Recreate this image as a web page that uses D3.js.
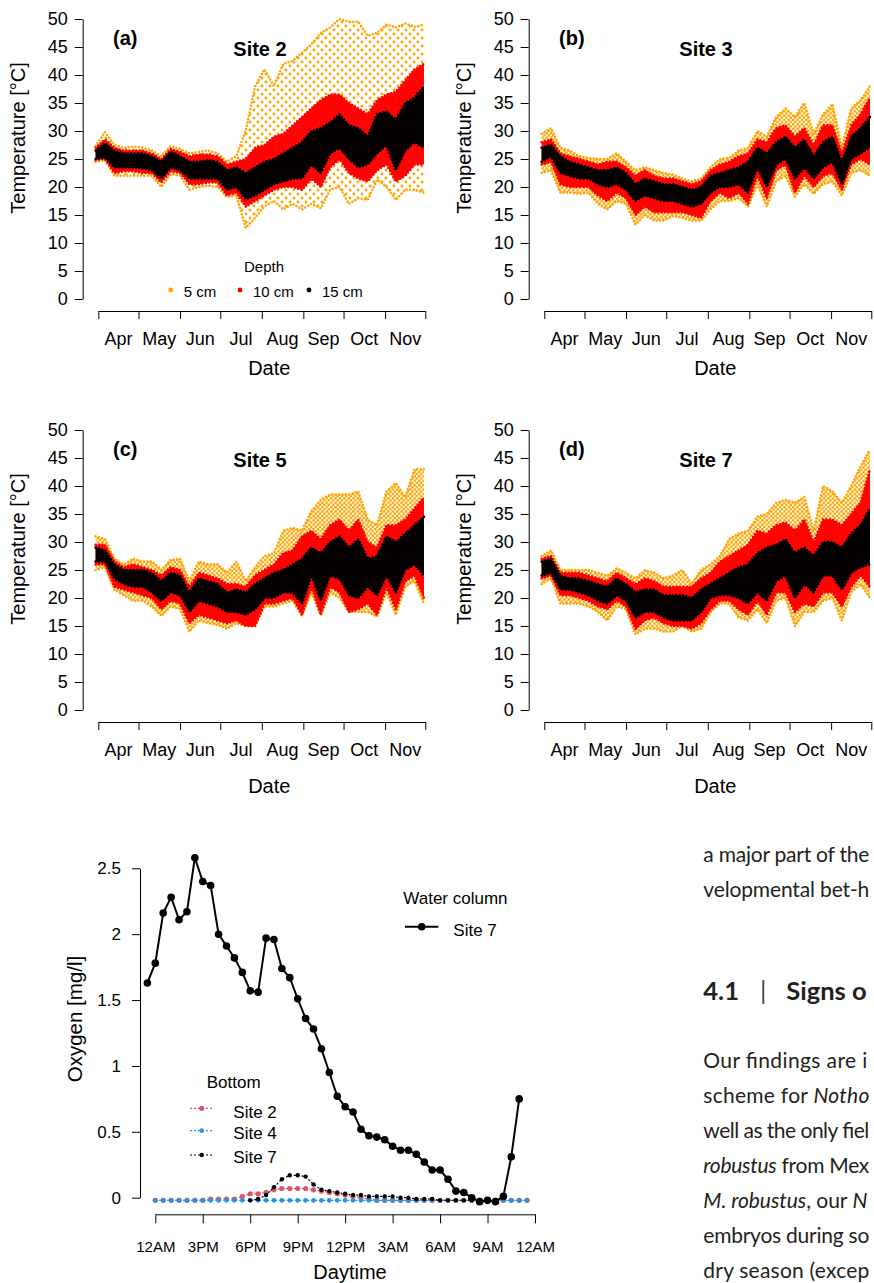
<!DOCTYPE html>
<html>
<head>
<meta charset="utf-8">
<script src="https://cdn.jsdelivr.net/npm/d3@7"></script>
<style>
  body { margin: 0; background: #fff; overflow: hidden; }
  svg { display: block; font-family: "Liberation Sans", Arial, sans-serif; }
</style>
</head>
<body>
<script>
// ---------- temperature data (weekly min / max per depth) ----------
const weekDates = ["2019-03-30","2019-04-06","2019-04-13","2019-04-20","2019-04-27","2019-05-04","2019-05-11","2019-05-18","2019-05-25","2019-06-01","2019-06-08","2019-06-15","2019-06-22","2019-06-29","2019-07-06","2019-07-13","2019-07-20","2019-07-27","2019-08-03","2019-08-10","2019-08-17","2019-08-24","2019-08-31","2019-09-07","2019-09-14","2019-09-21","2019-09-28","2019-10-05","2019-10-12","2019-10-19","2019-10-26","2019-11-02","2019-11-09","2019-11-16","2019-11-23","2019-11-30"];
const monthStarts = ["2019-04-01","2019-05-01","2019-06-01","2019-07-01","2019-08-01","2019-09-01","2019-10-01","2019-11-01","2019-12-01"];
const monthLabels = ["Apr","May","Jun","Jul","Aug","Sep","Oct","Nov"];
const tempTicks = [0,5,10,15,20,25,30,35,40,45,50];
const depthLabels = ["5 cm","10 cm","15 cm"];

// site 2
const site2_5cm_lo  = [24.5,24.8,22,22,22,22,22,20,22.3,22,19.5,20,20.2,20,18.2,18.5,12.7,14.5,16.5,17.5,16,17,16,17,16.2,19.5,20,17,18,17.7,21.3,20,17.7,19.5,19.5,19];
const site2_5cm_hi  = [27.3,29.8,27.5,27,27.2,27,26.5,25.5,27.3,26.8,26,26.3,26.5,26,24.5,25.5,30,38,41,38,42,42.5,44,45.5,47.5,48.5,50,49.5,49.5,47,47.5,49,48.5,49.2,48.6,49];
const site2_10cm_lo = [24.8,25,22.5,22.8,22.8,22.5,22.5,20.8,22.8,22.5,20.5,20.5,20.8,20.8,18.5,19,16.5,17.5,18.5,19.5,20,20,19.5,21.5,20,23.5,25,22.5,21.5,21,23,24,21,22,24,24];
const site2_10cm_hi = [27,28.5,27,26.5,26.5,26.5,26,25,26.8,26.3,25.5,25.8,25.8,25.5,24,24.5,25,27,27.5,29,29.5,31,32.5,34,35.5,36.5,36.5,35,34,33,35.5,36.5,37,39,41,42];
const site2_15cm_lo = [25,25.2,23.5,23.5,23.5,23.3,23,21.5,23.5,23,21.5,21.5,21.5,21.5,19.5,20,17.8,18.5,19.5,20.5,21,21.5,21.5,24,22.5,26,27,25,23.5,24,26,27.5,23,26.5,28,27];
const site2_15cm_hi = [26.5,27.8,26.5,26,26,26,25.5,24.5,26.3,25.5,24.5,24.5,24.8,24.5,23,23.5,22.5,23.5,24.5,25,26,27,28,30,30.5,31.5,33,31,30.5,29,33,33.5,32,35,36,38];

// site 3
const site3_5cm_lo  = [22.5,23,19,19,18.8,19,17,16,17.5,17,13.3,15,14,14,14.8,14.5,14,14,16,17.5,17.5,18,16.5,20.5,16.5,21,22,18.3,20.5,18.8,20.5,21,18.5,22.5,23,22];
const site3_5cm_hi  = [29.5,30.5,27,26.5,25.5,25.2,25,25,26,24.5,23,23.5,23,22.5,22.2,21.5,21,21.5,23.5,25,25.2,26.5,27,30,29,32.5,34,32.5,35,29.5,33,34.8,27,34,35.5,38];
const site3_10cm_lo = [24,24.5,20.5,20,20,20,18.5,17.5,19,18,15,16.5,15.5,15.5,15.5,15.5,15,14.5,17.5,19,18,19,17,22,18,23,24,19,22,20,22,22.5,19.5,24,25,24];
const site3_10cm_hi = [28,28.5,26,25.5,25,24.5,24,24.5,24.5,23.5,22,23,22,21.5,21.5,21,20.5,21,23,24,24.5,25.5,26,28.5,28,30.5,31,29,30.5,27.5,31,31,26,31,33,36];
const site3_15cm_lo = [24.5,25.5,22.5,22,21.5,21.5,20.5,20,20.5,19.5,17.5,18.5,18,17.5,17.5,17,16.5,17,19,20,20,20.5,19,23.5,20,24,25,21.5,23.5,21.5,23.5,24.5,20.5,25,26,27];
const site3_15cm_hi = [27,27.5,25.5,24.5,24,23.5,23,23,23.5,22.5,20.5,21.5,21,20.5,20.5,20,19.5,20,22,22.5,23,23.5,24.5,27,26,28,29,27,28.5,25.5,28,29,24.5,29,30.5,32.5];

// site 5
const site5_5cm_lo  = [25,25.5,21.5,20.5,19.5,19.5,18.5,16.8,18.5,18,14,16,15.5,15.2,14.5,15.5,15,15,18.5,18.5,19,19.5,16.8,21,17,21,20,17.5,17.5,17.5,16.7,21,17,22,23,19];
const site5_5cm_hi  = [31,30.5,27,26,27,26.5,26.5,25,26.8,27,23,26.5,26,26,24.5,26.5,23,25.5,27.5,28,32,32.5,32,35.5,37.5,38.5,38.5,38.5,39,34,33,39,40.5,38,43,43];
const site5_10cm_lo = [26,26,22,21.5,21,20.5,20,18,19.5,19,15.5,17,16.5,16,15.5,16,15,15,19,19,19.5,20,17,22,17,22,21,17.5,18,19,17,22,18,23,24,20];
const site5_10cm_hi = [29.5,29.5,26.5,25.5,26,25.5,25,24,25.5,25,22,24.5,24,23.5,22.5,22.5,22,24,25,26,28,28.5,31,32,30.5,33,34,32,34,30,29,33,33,34,36,38];
const site5_15cm_lo = [26.5,26.5,23.5,22.5,22,22,21,19.5,21,20.5,17.5,19.5,19,18.5,17.5,17.5,17,18,20,20,21,21,19,24,19.5,24,23.5,20.5,20,22,20.5,24,21,25,26,24];
const site5_15cm_hi = [29,28.5,26,25,25,25,24.5,23,24.5,24,21,23.5,23,22.5,21,21.5,21,22.5,23.5,24.5,25,26,27,29,28,30,31,29,30.5,27,27.5,31,30,31.5,33,34.5];

// site 7
const site7_5cm_lo  = [22.5,23.5,19,19,19,18.5,17.5,16,18.5,18,13.5,14.5,14.5,14,14,15,14,14.5,17.5,19,19,16.5,16,18,15.5,19.5,20,15,17.5,17.5,19.5,20,16,21,22.5,20];
const site7_5cm_hi  = [27.5,28.5,25,25,25,25,24.5,24,25.3,24.5,23.5,25,24.5,23.5,24,25,22.5,25,26,27.5,30.5,31.5,32,34.5,35,37,37.5,37,38,32,40,39,37,40,43.5,46.5];
const site7_10cm_lo = [23.5,24,20.5,20.5,20,19.5,18.5,18,19.5,18.5,14.5,16,16.5,15.5,15,15,14.5,15.5,18,19.5,19.5,18,17,19.5,17,21,21,17.5,19,18.5,21,21,18.5,22,24,22];
const site7_10cm_hi = [27,27.5,24.5,24.5,24.5,24,23.5,23,24.5,23.5,22.5,23.5,23,22,22,22,22,23.5,24.5,26.5,27.5,28.5,29.5,32,31.5,33,33.5,32,34,30,34,34,33,35,37,43];
const site7_15cm_lo = [24,24.5,21.5,21.5,21,20.5,19.5,19,20.5,19.5,16.5,17.5,17.5,16.5,16,16,16,17.5,20,20.5,20.5,20,19,21,19.5,23,24,20,22.5,21,24,24,21.5,24.5,25.5,26];
const site7_15cm_hi = [26.5,27,24,23.5,23.5,23,22.5,22,23.5,22.5,21,21.5,21.5,20.5,20.5,20.5,20,21.5,22.5,23.5,24.5,25.5,26,28,29,29.5,30.5,28,29,27.5,30,30,29,31.5,33,36];
// ----------

// ---------- oxygen data ----------
const wcTime = [-0.5,0,0.5,1,1.5,2,2.5,3,3.5,4,4.5,5,5.5,6,6.5,7,7.5,8,8.5,9,9.5,10,10.5,11,11.5,12,12.5,13,13.5,14,14.5,15,15.5,16,16.5,17,17.5,18,18.5,19,19.5,20,20.5,21,21.5,22,22.5,23];
const wcSite7 = [1.63,1.78,2.16,2.28,2.11,2.17,2.58,2.40,2.37,2.00,1.91,1.82,1.71,1.57,1.56,1.97,1.96,1.74,1.67,1.51,1.36,1.28,1.13,0.95,0.77,0.69,0.65,0.52,0.47,0.46,0.44,0.39,0.36,0.36,0.33,0.27,0.21,0.21,0.14,0.05,0.04,0.00,-0.03,-0.02,-0.03,0.01,0.31,0.75];
const bottomTime = [0,0.5,1,1.5,2,2.5,3,3.5,4,4.5,5,5.5,6,6.5,7,7.5,8,8.5,9,9.5,10,10.5,11,11.5,12,12.5,13,13.5,14,14.5,15,15.5,16,16.5,17,17.5,18,18.5,19,19.5,20,20.5,21,21.5,22,22.5,23,23.5];
const bottomSite2 = [-0.02,-0.02,-0.02,-0.02,-0.02,-0.02,-0.02,-0.01,-0.01,-0.01,-0.01,0.01,0.03,0.03,0.04,0.06,0.07,0.07,0.07,0.07,0.06,0.05,0.04,0.03,0.02,0.01,0.00,-0.01,-0.02,-0.02,-0.02,-0.02,-0.02,-0.02,-0.02,-0.02,-0.02,-0.02,-0.02,-0.02,-0.02,-0.02,-0.02,-0.02,-0.02,-0.02,-0.02,-0.02];
const bottomSite4 = [-0.02,-0.02,-0.02,-0.02,-0.02,-0.02,-0.02,-0.02,-0.02,-0.02,-0.02,-0.02,-0.02,-0.02,-0.02,-0.02,-0.02,-0.02,-0.02,-0.02,-0.02,-0.02,-0.02,-0.02,-0.02,-0.02,-0.02,-0.02,-0.02,-0.02,-0.02,-0.02,-0.02,-0.02,-0.02,-0.02,-0.02,-0.02,-0.02,-0.02,-0.02,-0.02,-0.02,-0.02,-0.02,-0.02,-0.02,-0.02];
const bottomTime7 = [6,6.5,7,7.5,8,8.5,9,9.5,10,10.5,11,11.5,12,12.5,13,13.5,14,14.5,15,15.5,16,16.5,17,17.5,18,18.5,19,19.5,20,20.5,21];
const bottomSite7 = [-0.02,-0.01,0.02,0.08,0.14,0.17,0.17,0.16,0.10,0.06,0.05,0.04,0.03,0.02,0.02,0.01,0.01,0.01,0.01,0.00,0.00,-0.01,-0.01,-0.01,-0.02,-0.02,-0.02,-0.02,-0.02,-0.02,-0.02];
const oxyTicks = [0,0.5,1,1.5,2,2.5];
const oxyTickLabels = ["0","0.5","1","1.5","2","2.5"];
const hourTicks = [0,3,6,9,12,15,18,21,24];
const hourLabels = ["12AM","3PM","6PM","9PM","12PM","3AM","6AM","9AM","12AM"];
const bottomLabels = ["Site 2","Site 4","Site 7"];
// ----------

// ---------- page text beside the figure ----------
const pageLines = [
  { y: 861.7, len: 166, parts: [["a major part of the", 0]] },
  { y: 896.7, len: 166, parts: [["velopmental bet-h", 0]] },
  { y: 1068.3, len: 164, parts: [["Our findings are i", 0]] },
  { y: 1103.3, len: 166, parts: [["scheme for ", 0], ["Notho", 1]] },
  { y: 1138.3, len: 166, parts: [["well as the only fiel", 0]] },
  { y: 1173.3, len: 166, parts: [["robustus", 1], [" from Mex", 0]] },
  { y: 1208.3, len: 164, parts: [["M. robustus", 1], [", our ", 0], ["N", 1]] },
  { y: 1243.3, len: 166, parts: [["embryos during so", 0]] },
  { y: 1278.3, len: 166, parts: [["dry season (excep", 0]] },
];
// ----------

const W = 874;
const H = 1283;
const parseDate = d3.timeParse("%Y-%m-%d");
const dates = weekDates.map(parseDate);
const months = monthStarts.map(parseDate);

const svg = d3.select("body").append("svg").attr("width", W).attr("height", H);

// dot patterns that give the scatter its speckled look
const defs = svg.append("defs");
const makePattern = (id, col, size, r, pts) => {
  const pat = defs
    .append("pattern")
    .attr("id", id)
    .attr("patternUnits", "userSpaceOnUse")
    .attr("width", size)
    .attr("height", size);
  pts.forEach((p) => {
    pat.append("circle").attr("cx", p[0]).attr("cy", p[1]).attr("r", r).attr("fill", col);
  });
};
makePattern("dots-black", "#000000", 2.4, 1.45, [[1.2, 1.2]]);
makePattern("dots-red", "#FF0000", 2.4, 1.45, [[1.2, 1.2]]);
makePattern("dots-orange", "#FFA500", 4.4, 1.4, [[1.1, 1.1], [3.3, 3.3]]);
makePattern("dots-orange-sparse", "#FFA500", 8, 1.45, [[2, 2], [6, 6]]);
// ----------

const styleAxis = (sel, size) => {
  sel.attr("font-family", null).attr("font-size", size);
  sel.selectAll("line, path").attr("stroke", "#000").attr("stroke-width", 1);
  sel.selectAll("text").attr("fill", "#000");
};

// temperature panels
const panels = [
  { tag: "(a)", title: "Site 2", ox: 0, oy: 0, dateY: 375, legend: true,
    series: [[site2_5cm_lo, site2_5cm_hi, "url(#dots-orange-sparse)", "#FFA500"], [site2_10cm_lo, site2_10cm_hi, "url(#dots-red)", "#FF0000"], [site2_15cm_lo, site2_15cm_hi, "url(#dots-black)", "#000000"]] },
  { tag: "(b)", title: "Site 3", ox: 446, oy: 0, dateY: 375, legend: false,
    series: [[site3_5cm_lo, site3_5cm_hi, "url(#dots-orange)", "#FFA500"], [site3_10cm_lo, site3_10cm_hi, "url(#dots-red)", "#FF0000"], [site3_15cm_lo, site3_15cm_hi, "url(#dots-black)", "#000000"]] },
  { tag: "(c)", title: "Site 5", ox: 0, oy: 411, dateY: 382, legend: false,
    series: [[site5_5cm_lo, site5_5cm_hi, "url(#dots-orange)", "#FFA500"], [site5_10cm_lo, site5_10cm_hi, "url(#dots-red)", "#FF0000"], [site5_15cm_lo, site5_15cm_hi, "url(#dots-black)", "#000000"]] },
  { tag: "(d)", title: "Site 7", ox: 446, oy: 411, dateY: 382, legend: false,
    series: [[site7_5cm_lo, site7_5cm_hi, "url(#dots-orange)", "#FFA500"], [site7_10cm_lo, site7_10cm_hi, "url(#dots-red)", "#FF0000"], [site7_15cm_lo, site7_15cm_hi, "url(#dots-black)", "#000000"]] },
];

const drawPanel = (p) => {
  const x = d3.scaleTime().domain([months[0], months[8]]).range([98.3 + p.ox, 425.3 + p.ox]);
  const y = d3.scaleLinear().domain([0, 50]).range([299 + p.oy, 19 + p.oy]);
  const g = svg.append("g");

  // bands: 5 cm, then 10 cm, then 15 cm on top; edges drawn as rows of dots
  p.series.forEach((s) => {
    const band = d3
      .area()
      .x((d, i) => x(dates[i]))
      .y0((d, i) => y(s[0][i]))
      .y1((d, i) => y(s[1][i]));
    g.append("path").datum(s[0]).attr("d", band).attr("fill", s[2]);
    [s[0], s[1]].forEach((edge) => {
      const edgeLine = d3
        .line()
        .x((d, i) => x(dates[i]))
        .y((d) => y(d));
      g.append("path")
        .datum(edge)
        .attr("d", edgeLine)
        .attr("fill", "none")
        .attr("stroke", s[3])
        .attr("stroke-width", 2.6)
        .attr("stroke-linecap", "round")
        .attr("stroke-dasharray", "0,3.4");
    });
  });

  // y axis
  g.append("g")
    .attr("transform", `translate(${82.7 + p.ox},0)`)
    .call(d3.axisLeft(y).tickValues(tempTicks).tickSize(8).tickSizeOuter(0).tickPadding(7))
    .call((s) => styleAxis(s, 18));

  // x axis, month names sit between the ticks
  g.append("g")
    .attr("transform", `translate(0,${311 + p.oy})`)
    .call(d3.axisBottom(x).tickValues(months).tickFormat("").tickSize(8).tickSizeOuter(0))
    .call((s) => styleAxis(s, 18));

  g.append("g")
    .selectAll("text")
    .data(monthLabels)
    .enter()
    .append("text")
    .attr("x", (d, i) => (x(months[i]) + x(months[i + 1])) / 2)
    .attr("y", 345 + p.oy)
    .attr("text-anchor", "middle")
    .attr("font-size", 18)
    .text((d) => d);

  g.append("text")
    .attr("x", 269.3 + p.ox)
    .attr("y", p.dateY + p.oy)
    .attr("text-anchor", "middle")
    .attr("font-size", 20)
    .text("Date");

  g.append("text")
    .attr("transform", `translate(${25 + p.ox},${138 + p.oy}) rotate(-90)`)
    .attr("text-anchor", "middle")
    .attr("font-size", 20)
    .text("Temperature [°C]");

  g.append("text")
    .attr("x", 113 + p.ox)
    .attr("y", 45 + p.oy)
    .attr("font-size", 20)
    .attr("font-weight", "bold")
    .text(p.tag);

  g.append("text")
    .attr("x", 260 + p.ox)
    .attr("y", 56 + p.oy)
    .attr("text-anchor", "middle")
    .attr("font-size", 20)
    .attr("font-weight", "bold")
    .text(p.title);

  if (p.legend) {
    const leg = g.append("g");
    leg.append("text").attr("x", 264).attr("y", 272).attr("text-anchor", "middle").attr("font-size", 15).text("Depth");
    const legX = [170.7, 240, 309];
    depthLabels.forEach((d, i) => {
      leg.append("circle").attr("cx", legX[i]).attr("cy", 290).attr("r", 2.4).attr("fill", p.series[i][3]);
      leg.append("text").attr("x", legX[i] + 13).attr("y", 296.5).attr("font-size", 15).text(d);
    });
  }
};
panels.forEach(drawPanel);
// ----------

// oxygen chart
const xo = d3.scaleLinear().domain([0, 24]).range([155.3, 535]);
const yo = d3.scaleLinear().domain([0, 2.5]).range([1197.7, 868.3]);
const oxy = svg.append("g");

oxy.append("g")
  .attr("transform", "translate(140,0)")
  .call(d3.axisLeft(yo).tickValues(oxyTicks).tickFormat((d, i) => oxyTickLabels[i]).tickSize(8).tickSizeOuter(0).tickPadding(11))
  .call((s) => styleAxis(s, 17));

oxy.append("g")
  .attr("transform", "translate(0,1214.3)")
  .call(d3.axisBottom(xo).tickValues(hourTicks).tickFormat((d, i) => hourLabels[i]).tickSize(9).tickSizeOuter(0).tickPadding(18))
  .call((s) => styleAxis(s, 15));

oxy.append("text")
  .attr("x", 350)
  .attr("y", 1278.5)
  .attr("text-anchor", "middle")
  .attr("font-size", 20)
  .text("Daytime");

oxy.append("text")
  .attr("transform", "translate(82,1019) rotate(-90)")
  .attr("text-anchor", "middle")
  .attr("font-size", 20.5)
  .text("Oxygen [mg/l]");

// bottom series: site 2, site 4, site 7 (dotted)
const bottomSeries = [
  { t: bottomTime, v: bottomSite2, col: "#DF536B", r: 2.6 },
  { t: bottomTime, v: bottomSite4, col: "#2297E6", r: 2.4 },
  { t: bottomTime7, v: bottomSite7, col: "#000000", r: 2.2 },
];
bottomSeries.forEach((s) => {
  const line = d3
    .line()
    .x((d, i) => xo(s.t[i]))
    .y((d) => yo(d));
  oxy.append("path")
    .datum(s.v)
    .attr("d", line)
    .attr("fill", "none")
    .attr("stroke", s.col)
    .attr("stroke-width", 1.2)
    .attr("stroke-dasharray", "2,2");
  oxy.append("g")
    .selectAll("circle")
    .data(s.v)
    .enter()
    .append("circle")
    .attr("cx", (d, i) => xo(s.t[i]))
    .attr("cy", (d) => yo(d))
    .attr("r", s.r)
    .attr("fill", s.col);
});

// water column site 7
const wcLine = d3
  .line()
  .x((d, i) => xo(wcTime[i]))
  .y((d) => yo(d));
oxy.append("path")
  .datum(wcSite7)
  .attr("d", wcLine)
  .attr("fill", "none")
  .attr("stroke", "#000")
  .attr("stroke-width", 2);
oxy.append("g")
  .selectAll("circle")
  .data(wcSite7)
  .enter()
  .append("circle")
  .attr("cx", (d, i) => xo(wcTime[i]))
  .attr("cy", (d) => yo(d))
  .attr("r", 3.8)
  .attr("fill", "#000");

// legends
oxy.append("text").attr("x", 403.3).attr("y", 904.3).attr("font-size", 17).text("Water column");
oxy.append("line").attr("x1", 405).attr("x2", 438.3).attr("y1", 926.7).attr("y2", 926.7).attr("stroke", "#000").attr("stroke-width", 2);
oxy.append("circle").attr("cx", 421.7).attr("cy", 926.7).attr("r", 3.8).attr("fill", "#000");
oxy.append("text").attr("x", 453.3).attr("y", 935.7).attr("font-size", 17).text("Site 7");

oxy.append("text").attr("x", 206.7).attr("y", 1088.3).attr("font-size", 17).text("Bottom");
const bottomLegY = [1108.3, 1130.7, 1155];
const bottomTextY = [1117.7, 1139.3, 1162.7];
bottomSeries.forEach((s, i) => {
  oxy.append("line")
    .attr("x1", 190).attr("x2", 214)
    .attr("y1", bottomLegY[i]).attr("y2", bottomLegY[i])
    .attr("stroke", s.col).attr("stroke-width", 1.2).attr("stroke-dasharray", "2,2");
  oxy.append("circle").attr("cx", 201.7).attr("cy", bottomLegY[i]).attr("r", s.r).attr("fill", s.col);
  oxy.append("text").attr("x", 233.3).attr("y", bottomTextY[i]).attr("font-size", 17).text(bottomLabels[i]);
});
// ----------

// text of the article page to the right (justified lines)
const page = svg.append("g").attr("font-family", "Lato, sans-serif").attr("fill", "#231f20");
pageLines.forEach((ln) => {
  const t = page
    .append("text")
    .attr("x", 703.3)
    .attr("y", ln.y)
    .attr("font-size", 21)
    .attr("textLength", ln.len)
    .attr("lengthAdjust", "spacing");
  ln.parts.forEach((pt) => {
    t.append("tspan").attr("font-style", pt[1] ? "italic" : "normal").text(pt[0]);
  });
});
page.append("text").attr("x", 703.3).attr("y", 1000).attr("font-size", 25.5).attr("font-weight", "bold").text("4.1");
page.append("text").attr("x", 760).attr("y", 1000).attr("font-size", 25.5).attr("fill", "#444").text("|");
page.append("text").attr("x", 786.3).attr("y", 1000).attr("font-size", 25.5).attr("font-weight", "bold").text("Signs o");
</script>
</body>
</html>
